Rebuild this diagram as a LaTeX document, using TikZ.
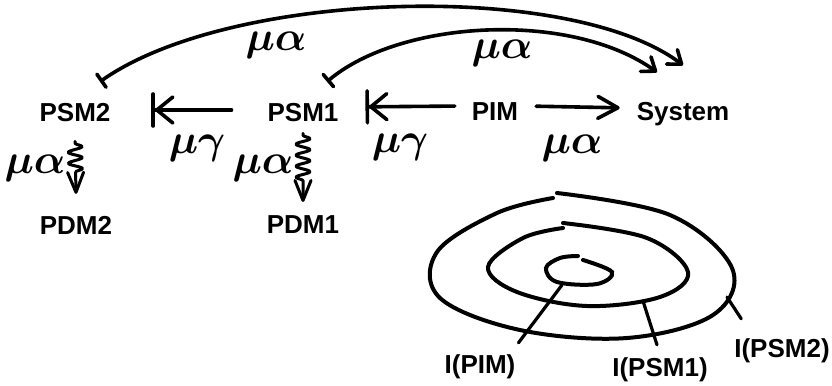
\documentclass[tikz,border=0pt]{standalone}
\usepackage{fontspec}
\setmainfont{Liberation Sans}
\usetikzlibrary{arrows.meta, decorations.pathmorphing}

\begin{document}
\begin{tikzpicture}[x=0.5pt, y=-0.5pt,
    model/.style={font=\bfseries\fontsize{13}{15}\selectfont},
    lab/.style={font=\boldmath\fontsize{21}{23}\selectfont},
    ink/.style={line width=1.8pt, line cap=round, line join=round},
    kto/.style={ink, -{Straight Barb[length=8pt,width=13pt,round] Bar[width=16pt,round]}},
    arc/.style={ink, {Bar[width=8pt,round]}-{Straight Barb[length=6pt,width=9pt,round]}},
    squig/.style={line width=1.5pt, line cap=round, line join=round, decorate,
        decoration={snake, amplitude=3.5pt, segment length=5.5pt, pre length=1pt, post length=9pt},
        -{Straight Barb[length=10pt,width=8pt,round]}},
    ring/.style={line width=2pt, line cap=round},
    lead/.style={line width=1.6pt, line cap=round}]
    \useasboundingbox (0,0) rectangle (832,386);
    % models
    \node(psm2)[model] at (75,113) {PSM2};
    \node(psm1)[model] at (303,113) {PSM1};
    \node(pim)[model] at (495,112) {PIM};
    \node(sys)[model] at (683,114) {System};
    \node(pdm2)[model] at (76,225) {PDM2};
    \node(pdm1)[model] at (303,225) {PDM1};
    % mappings
    \node(a1)[lab] at (276,45) {$\mu\alpha$};
    \node(a2)[lab] at (502,53) {$\mu\alpha$};
    \node(g1)[lab] at (197,148) {$\mu\gamma$};
    \node(g2)[lab] at (400,147) {$\mu\gamma$};
    \node(a3)[lab] at (572,148) {$\mu\alpha$};
    \node(a4)[lab] at (35,168) {$\mu\alpha$};
    \node(a5)[lab] at (263,168) {$\mu\alpha$};
    \draw[arc] ([shift={(25,-15)}]psm2.north) .. controls (230,-10) and (570,-20) .. ([shift={(0,-30)}]sys.north);
    \draw[arc] ([shift={(24,-15)}]psm1.north) .. controls (400,20) and (570,10) .. ([shift={(-26,-23)}]sys.north);
    \draw[kto, shorten <=14.5pt, shorten >=17pt] ([yshift=1.5pt]psm1.west) -- ([yshift=1.5pt]psm2.east);
    \draw[kto, shorten <=5pt, shorten >=10pt] ([yshift=3pt]pim.west) -- ([yshift=3pt]psm1.east);
    \draw[ink, -{Straight Barb[length=10pt,width=11pt,round]}, shorten <=5.5pt, shorten >=5pt] ([yshift=3pt]pim.east) -- ([yshift=3pt]sys.west);
    \draw[squig] ([yshift=-6pt]psm2.south) -- ([yshift=7.5pt]pdm2.north);
    \draw[squig] ([yshift=-2pt]psm1.south) -- ([yshift=3.5pt]pdm1.north);
    % interpretations
    \draw[ring] plot[smooth, tension=0.6] coordinates {(557,193) (670,215) (732,268) (713,315) (627,338) (520,330) (440,298) (437,252) (497,213) (553,198)};
    \draw[ring] plot[smooth, tension=0.6] coordinates {(563,223) (647,238) (688,272) (660,297) (587,306) (517,292) (488,267) (523,238) (563,228)};
    \draw[ring] plot[smooth, tension=0.6] coordinates {(583,260) (612,272) (597,284) (557,282) (546,268) (560,258) (578,256)};
    \node(ipim)[model] at (480,367) {I(PIM)};
    \node(ipsm1)[model] at (660,370) {I(PSM1)};
    \node(ipsm2)[model] at (782,351) {I(PSM2)};
    \coordinate (rpim) at (562,285);
    \coordinate (rpsm1) at (643,301);
    \coordinate (rpsm2) at (727,297);
    \draw[lead] (rpim) -- ([shift={(-4,-5)}]ipim.north east);
    \draw[lead] (rpsm1) -- ([shift={(-3,-6)}]ipsm1.north);
    \draw[lead] (rpsm2) -- ([shift={(14,-13)}]ipsm2.north west);
\end{tikzpicture}
\end{document}
